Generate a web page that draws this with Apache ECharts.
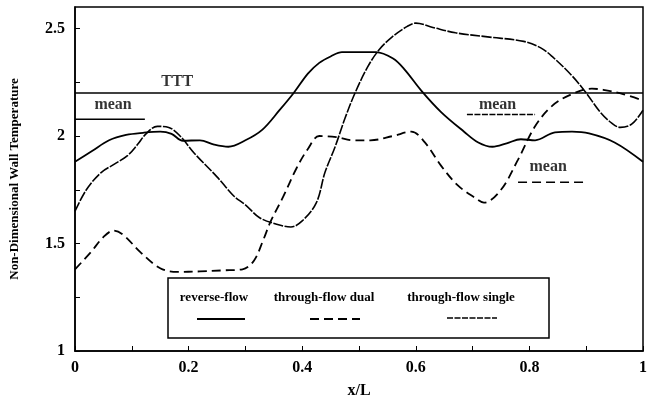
<!DOCTYPE html>
<html>
<head>
<meta charset="utf-8">
<script src="https://cdn.jsdelivr.net/npm/echarts@6/dist/echarts.min.js"></script>
<style>html,body{margin:0;padding:0;background:#fff;}#c{width:655px;height:404px;}</style>
</head>
<body>
<div id="c"></div>
<script>
// ---- data ----
const reverseX = [0,0.03,0.06,0.09,0.12,0.15,0.17,0.19,0.22,0.245,0.27,0.3,0.33,0.36,0.385,0.41,0.43,0.45,0.47,0.53,0.56,0.58,0.61,0.645,0.685,0.71,0.735,0.76,0.785,0.81,0.845,0.875,0.905,0.95,1.0];
const reverseY = [1.88,1.93,1.98,2.005,2.015,2.02,2.01,1.978,1.98,1.96,1.95,1.98,2.03,2.12,2.2,2.29,2.34,2.37,2.39,2.39,2.36,2.31,2.21,2.11,2.02,1.97,1.95,1.966,1.985,1.98,2.017,2.02,2.012,1.97,1.88];

const dualX = [0,0.028,0.05,0.068,0.085,0.115,0.15,0.18,0.22,0.26,0.295,0.315,0.332,0.344,0.367,0.39,0.41,0.43,0.46,0.49,0.52,0.56,0.592,0.616,0.645,0.674,0.703,0.72,0.75,0.78,0.81,0.84,0.875,0.91,0.93,0.965,1.0];
const dualY = [1.38,1.46,1.53,1.56,1.54,1.46,1.385,1.368,1.37,1.375,1.38,1.42,1.52,1.6,1.72,1.85,1.94,2.0,1.995,1.98,1.98,2.0,2.02,1.97,1.86,1.77,1.715,1.69,1.75,1.89,2.045,2.14,2.195,2.22,2.215,2.195,2.165];

const singleX = [0,0.02,0.046,0.07,0.093,0.11,0.125,0.145,0.165,0.185,0.21,0.25,0.28,0.3,0.325,0.355,0.38,0.4,0.425,0.44,0.458,0.475,0.493,0.515,0.535,0.558,0.585,0.6,0.63,0.67,0.73,0.79,0.82,0.84,0.875,0.9,0.925,0.945,0.96,0.98,1.0];
const singleY = [1.65,1.75,1.83,1.87,1.91,1.96,2.01,2.045,2.04,2.0,1.92,1.81,1.72,1.68,1.62,1.59,1.577,1.605,1.69,1.83,1.95,2.08,2.2,2.32,2.4,2.46,2.51,2.525,2.505,2.48,2.46,2.44,2.41,2.37,2.28,2.2,2.11,2.06,2.04,2.055,2.12];

const tttX = [0, 1];
const tttY = [2.2, 2.2];
const meanReverseX = [0, 0.123];   const meanReverseY = 2.078;
const meanSingleX = [0.69, 0.81];  const meanSingleY = 2.1;
const meanDualX = [0.78, 0.90];    const meanDualY = 1.785;

const noteText = ['TTT', 'mean', 'mean', 'mean'];
const noteX = [0.18, 0.067, 0.744, 0.833];
const noteY = [2.254, 2.147, 2.147, 1.855];

const seriesNames = ['reverse-flow', 'through-flow dual', 'through-flow single'];
const yTicks = [1, 1.5, 2, 2.5];
const xTicks = [0, 0.2, 0.4, 0.6, 0.8, 1];

// ---- build ----
const zip = (xs, ys) => xs.map((x, i) => [x, ys[i]]);
const FONT = '"Liberation Serif", "DejaVu Serif", serif';
const BLACK = '#000';
const dualDash = [9, 5];
const singleDash = [10, 1.5];

const chart = echarts.init(document.getElementById('c'), null, {renderer: 'canvas'});
const option = {
  animation: false,
  backgroundColor: '#fff',
  grid: {left: 74, right: 12, top: 7, bottom: 52, show: true, borderColor: BLACK, borderWidth: 1.5, backgroundColor: 'transparent'},
  xAxis: {
    type: 'value', min: 0, max: 1, interval: 0.1,
    name: 'x/L', nameLocation: 'middle', nameGap: 32,
    nameTextStyle: {fontFamily: FONT, fontWeight: 'bold', fontSize: 16, color: BLACK},
    axisLine: {lineStyle: {color: BLACK, width: 1.5}},
    axisTick: {inside: true, length: 5, lineStyle: {color: BLACK}},
    splitLine: {show: false},
    axisLabel: {
      margin: 9, fontFamily: FONT, fontWeight: 'bold', fontSize: 16, color: BLACK,
      formatter: v => { const t = xTicks.find(k => Math.abs(k - v) < 1e-6); return t === undefined ? '' : String(t); }
    }
  },
  yAxis: {
    type: 'value', min: 1, max: 2.6, interval: 0.25,
    name: 'Non-Dimensional Wall Temperature', nameLocation: 'middle', nameGap: 54, nameRotate: 90,
    nameTextStyle: {fontFamily: FONT, fontWeight: 'bold', fontSize: 13, color: BLACK},
    axisLine: {lineStyle: {color: BLACK, width: 1.5}},
    axisTick: {inside: true, length: 5, lineStyle: {color: BLACK}},
    splitLine: {show: false},
    axisLabel: {
      margin: 10, fontFamily: FONT, fontWeight: 'bold', fontSize: 16, color: BLACK, showMaxLabel: false,
      formatter: v => { const t = yTicks.find(k => Math.abs(k - v) < 1e-6); return t === undefined ? '' : String(t); }
    }
  },
  series: [
    {name: seriesNames[0], type: 'line', data: zip(reverseX, reverseY), smooth: 0.35, showSymbol: false,
     lineStyle: {color: BLACK, width: 1.8}},
    {name: seriesNames[1], type: 'line', data: zip(dualX, dualY), smooth: 0.35, showSymbol: false,
     lineStyle: {color: BLACK, width: 1.8, type: dualDash}},
    {name: seriesNames[2], type: 'line', data: zip(singleX, singleY), smooth: 0.35, showSymbol: false,
     lineStyle: {color: BLACK, width: 1.6, type: singleDash}},
    {name: 'TTT', type: 'line', data: zip(tttX, tttY), showSymbol: false, lineStyle: {color: BLACK, width: 1.5}},
    {name: 'mean reverse', type: 'line', data: meanReverseX.map(x => [x, meanReverseY]), showSymbol: false, lineStyle: {color: BLACK, width: 1.6}},
    {name: 'mean single', type: 'line', data: meanSingleX.map(x => [x, meanSingleY]), showSymbol: false, lineStyle: {color: BLACK, width: 1.5, type: [6, 1.5]}},
    {name: 'mean dual', type: 'line', data: meanDualX.map(x => [x, meanDualY]), showSymbol: false, lineStyle: {color: BLACK, width: 1.6, type: dualDash}},
    {name: 'notes', type: 'scatter', symbolSize: 0, silent: true,
     data: noteX.map((x, i) => ({value: [x, noteY[i]], name: noteText[i]})),
     label: {show: true, position: 'inside', formatter: p => p.name, fontFamily: FONT, fontWeight: 'bold', fontSize: 16, color: BLACK}}
  ],
  graphic: [
    {type: 'rect', shape: {x: 168, y: 278, width: 381, height: 60}, style: {fill: '#fff', stroke: BLACK, lineWidth: 1.5}, z: 100},
    {type: 'text', x: 214, y: 298, style: {text: seriesNames[0], font: 'bold 13px ' + FONT, fill: BLACK, textAlign: 'center', textVerticalAlign: 'middle'}, z: 101},
    {type: 'text', x: 324, y: 298, style: {text: seriesNames[1], font: 'bold 13px ' + FONT, fill: BLACK, textAlign: 'center', textVerticalAlign: 'middle'}, z: 101},
    {type: 'text', x: 461, y: 298, style: {text: seriesNames[2], font: 'bold 13px ' + FONT, fill: BLACK, textAlign: 'center', textVerticalAlign: 'middle'}, z: 101},
    {type: 'line', shape: {x1: 197, y1: 319, x2: 245, y2: 319}, style: {stroke: BLACK, lineWidth: 1.8}, z: 101},
    {type: 'line', shape: {x1: 310, y1: 319, x2: 360, y2: 319}, style: {stroke: BLACK, lineWidth: 1.8, lineDash: dualDash}, z: 101},
    {type: 'line', shape: {x1: 447, y1: 318, x2: 497, y2: 318}, style: {stroke: BLACK, lineWidth: 1.6, lineDash: [6, 1.5]}, z: 101}
  ]
};
chart.setOption(option);
</script>
</body>
</html>
